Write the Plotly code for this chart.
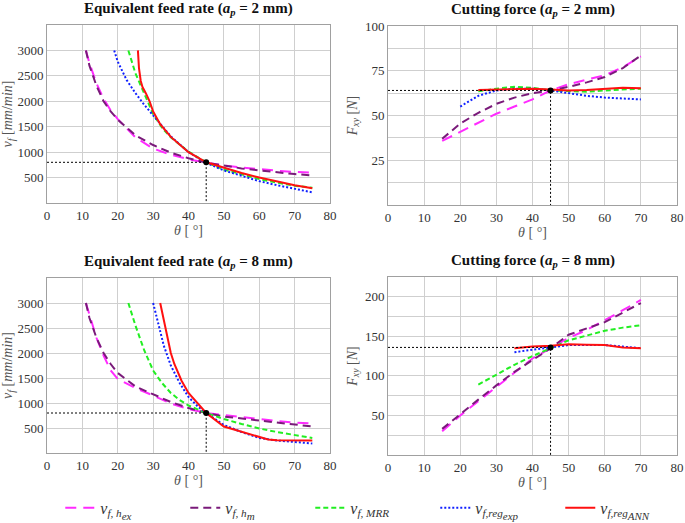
import plotly.graph_objects as go

# ---------------- data ----------------
# Equivalent feed rate, ap = 2 mm
feed2_h_theta = [11, 12, 14, 16, 18, 20, 25, 30, 35, 40, 45, 50, 55, 60, 65, 70, 75]
feed2_hex = [3000, 2750, 2350, 2050, 1820, 1650, 1290, 1070, 950, 860, 795, 740, 700, 665, 635, 610, 595]
feed2_hm = [3000, 2700, 2300, 2000, 1800, 1640, 1330, 1140, 990, 880, 795, 730, 680, 640, 600, 570, 540]
feed2_mrr_theta = [23, 25, 27.5, 30, 32.5, 35, 40, 45, 50, 55, 60, 65, 70, 75]
feed2_mrr = [3000, 2550, 2150, 1750, 1480, 1290, 1010, 800, 660, 560, 470, 400, 340, 300]
feed2_exp_theta = [19, 20, 22.5, 25, 27.5, 30, 32.5, 35, 40, 45, 50, 55, 60, 65, 70, 75]
feed2_exp = [3000, 2780, 2420, 2160, 1930, 1720, 1520, 1310, 1000, 790, 640, 530, 430, 350, 280, 210]
feed2_ann_theta = [25.7, 26, 26.5, 27, 28, 29, 30, 32, 35, 40, 45, 50, 55, 60, 65, 70, 75]
feed2_ann = [3000, 2650, 2400, 2280, 2150, 2000, 1800, 1550, 1300, 1000, 800, 690, 590, 500, 420, 350, 290]

# Cutting force, ap = 2 mm
force2_h_theta = [15, 20, 25, 30, 35, 40, 45, 50, 55, 60, 65, 70]
force2_hex = [35.8, 41, 46, 51, 55, 59, 64, 67.5, 70, 72.5, 77, 83]
force2_hm = [37, 45.5, 51.5, 56.5, 60, 62.5, 64, 66, 68.5, 71.5, 76.5, 83.5]
force2_mrr_theta = [25, 30, 35, 40, 45, 50, 55, 60, 65, 70]
force2_mrr = [63.5, 65, 66, 65.5, 64, 63.5, 63.3, 64, 64.5, 65]
force2_exp_theta = [20, 25, 30, 35, 40, 45, 50, 55, 60, 65, 70]
force2_exp = [55, 61, 64, 65, 65, 64, 62.5, 61, 60, 59.5, 59]
force2_ann_theta = [25, 30, 35, 40, 45, 50, 55, 60, 65, 70]
force2_ann = [64.2, 64.5, 65, 65, 64.5, 64, 64.3, 64.8, 65.5, 65.2]

# Equivalent feed rate, ap = 8 mm
feed8_h_theta = [11, 12, 14, 16, 18, 20, 25, 30, 35, 40, 45, 50, 55, 60, 65, 70, 75]
feed8_hex = [3000, 2750, 2300, 1950, 1650, 1480, 1300, 1150, 990, 880, 800, 760, 720, 670, 640, 610, 590]
feed8_hm = [3000, 2700, 2300, 2000, 1780, 1600, 1330, 1170, 1020, 900, 800, 730, 690, 650, 610, 570, 530]
feed8_mrr_theta = [23, 25, 27.5, 30, 32.5, 35, 37.5, 40, 45, 50, 55, 60, 65, 70, 75]
feed8_mrr = [3000, 2550, 2050, 1650, 1400, 1200, 1060, 950, 800, 680, 580, 490, 420, 360, 300]
feed8_exp_theta = [30, 31, 32, 33, 34, 35, 37.5, 40, 42.5, 45, 50, 55, 60, 65, 70, 75]
feed8_exp = [3000, 2700, 2400, 2150, 1950, 1750, 1400, 1120, 940, 800, 560, 420, 300, 250, 220, 190]
feed8_ann_theta = [32, 33, 34, 35, 36, 38, 40, 42.5, 45, 50, 55, 60, 62.5, 65, 70, 75]
feed8_ann = [3000, 2650, 2300, 2000, 1780, 1450, 1200, 1000, 800, 530, 430, 320, 270, 255, 250, 250]

# Cutting force, ap = 8 mm
force8_h_theta = [15, 20, 25, 30, 35, 40, 45, 50, 55, 60, 65, 70]
force8_hex = [30, 50, 68, 86, 103, 122, 135, 148, 158, 170, 183, 196]
force8_hm = [33, 52, 70, 88, 105, 120, 135, 152, 160, 168, 180, 192]
force8_mrr_theta = [25, 30, 35, 40, 45, 50, 55, 60, 65, 70]
force8_mrr = [89, 102, 114, 125, 135, 145, 151, 157, 161, 164]
force8_exp_theta = [35, 40, 45, 50, 55, 60, 65, 70]
force8_exp = [130, 133, 136, 139, 139, 139, 137, 135]
force8_ann_theta = [35, 40, 45, 50, 55, 60, 65, 70]
force8_ann = [135, 137, 138, 140, 139.5, 139, 136, 135]

# reference operating points (theta, value)
ref_theta = 45
ref_values = [800, 64, 800, 136]

titles = [
    "<b>Equivalent feed rate (<i>a<sub>p</sub></i> = 2 mm)</b>",
    "<b>Cutting force (<i>a<sub>p</sub></i> = 2 mm)</b>",
    "<b>Equivalent feed rate (<i>a<sub>p</sub></i> = 8 mm)</b>",
    "<b>Cutting force (<i>a<sub>p</sub></i> = 8 mm)</b>",
]
legend_names = [
    "<i>v<sub>f, h<sub><span style='font-size:11px'>ex</span></sub></sub></i>",
    "<i>v<sub>f, h<sub><span style='font-size:11px'>m</span></sub></sub></i>",
    "<i>v<sub>f, MRR</sub></i>",
    "<i>v<sub>f,reg<sub><span style='font-size:11px'>exp</span></sub></sub></i>",
    "<i>v<sub>f,reg<sub><span style='font-size:11px'>ANN</span></sub></sub></i>",
]

# ---------------- styles ----------------
styles = [
    dict(color="#ff2bff", width=2, dash="11px,7px"),
    dict(color="#7a1a7a", width=2, dash="8px,5px"),
    dict(color="#22ee22", width=2, dash="5px,3px"),
    dict(color="#1020ff", width=2, dash="2px,2px"),
    dict(color="#ff1010", width=2),
]

panels = [
    [(feed2_h_theta, feed2_hex), (feed2_h_theta, feed2_hm), (feed2_mrr_theta, feed2_mrr),
     (feed2_exp_theta, feed2_exp), (feed2_ann_theta, feed2_ann)],
    [(force2_h_theta, force2_hex), (force2_h_theta, force2_hm), (force2_mrr_theta, force2_mrr),
     (force2_exp_theta, force2_exp), (force2_ann_theta, force2_ann)],
    [(feed8_h_theta, feed8_hex), (feed8_h_theta, feed8_hm), (feed8_mrr_theta, feed8_mrr),
     (feed8_exp_theta, feed8_exp), (feed8_ann_theta, feed8_ann)],
    [(force8_h_theta, force8_hex), (force8_h_theta, force8_hm), (force8_mrr_theta, force8_mrr),
     (force8_exp_theta, force8_exp), (force8_ann_theta, force8_ann)],
]

W, H = 685, 523
# pixel frames (left, right, top, bottom)
frames = [(47, 330, 25, 203), (388, 677, 26, 205), (47, 330, 278, 453), (388, 677, 277, 455)]

fig = go.Figure()
for p, series in enumerate(panels):
    ax = "" if p == 0 else str(p + 1)
    for s, (tx, ty) in enumerate(series):
        fig.add_trace(go.Scatter(
            x=tx, y=ty, mode="lines", line=styles[s], name=legend_names[s],
            showlegend=(p == 0), xaxis="x" + ax, yaxis="y" + ax))
    rv = ref_values[p]
    fig.add_trace(go.Scatter(
        x=[0, ref_theta, ref_theta], y=[rv, rv, 0], mode="lines",
        line=dict(color="black", width=1, dash="2px,2px"), showlegend=False,
        xaxis="x" + ax, yaxis="y" + ax))
    fig.add_trace(go.Scatter(
        x=[ref_theta], y=[rv], mode="markers", marker=dict(color="black", size=6),
        showlegend=False, xaxis="x" + ax, yaxis="y" + ax))

font_family = "Liberation Serif"
grid = "#cfcfcf"
frame_col = "#a0a0a0"
tickfont = dict(family=font_family, size=13, color="#333")
titlefont = dict(family=font_family, size=14, color="#555")

layout = dict(
    width=W, height=H, margin=dict(l=0, r=0, t=0, b=0, autoexpand=False),
    paper_bgcolor="white", plot_bgcolor="white",
    font=dict(family=font_family),
    legend=dict(orientation="h", x=0.088, y=0.029, xanchor="left", yanchor="middle",
                entrywidth=80, entrywidthmode="pixels",
                font=dict(family=font_family, size=16, color="#333"),
                bgcolor="rgba(0,0,0,0)"),
    annotations=[],
)

yranges = [[0, 3500], [0, 100], [0, 3500], [0, 225]]
ylabels = ["<i>v<sub>f</sub></i> [<i>mm</i>/<i>min</i>]", "<i>F<sub>xy</sub></i> [<i>N</i>]",
           "<i>v<sub>f</sub></i> [<i>mm</i>/<i>min</i>]", "<i>F<sub>xy</sub></i> [<i>N</i>]"]
ytickvals = [[500, 1000, 1500, 2000, 2500, 3000], [25, 50, 75, 100],
             [500, 1000, 1500, 2000, 2500, 3000], [50, 100, 150, 200]]
yminor = [None, 12.5, None, 25]

for p in range(4):
    l, r, t, b = frames[p]
    ax = "" if p == 0 else str(p + 1)
    xd = [l / W, r / W]
    yd = [1 - b / H, 1 - t / H]
    layout["xaxis" + ax] = dict(
        domain=xd, range=[0, 80], tickvals=[0, 10, 20, 30, 40, 50, 60, 70, 80],
        showgrid=True, gridcolor=grid, gridwidth=1, zeroline=False,
        showline=True, linecolor=frame_col, linewidth=1, mirror=True, automargin=False,
        ticks="", tickfont=tickfont, anchor="y" + ax,
        title=dict(text="<i>θ</i> [ °]", font=titlefont, standoff=2))
    ydict = dict(
        domain=yd, range=yranges[p], tickvals=ytickvals[p],
        showgrid=True, gridcolor=grid, gridwidth=1, zeroline=False,
        showline=True, linecolor=frame_col, linewidth=1, mirror=True, automargin=False,
        ticks="", tickfont=tickfont, anchor="x" + ax,
        title=dict(text=ylabels[p], font=titlefont, standoff=4))
    if yminor[p]:
        ydict["minor"] = dict(tickmode="linear", tick0=0, dtick=yminor[p], showgrid=True,
                              gridcolor=grid, gridwidth=1, ticks="")
    layout["yaxis" + ax] = ydict
    layout["annotations"].append(dict(
        text=titles[p], x=(xd[0] + xd[1]) / 2, y=yd[1] + 5 / H, xref="paper", yref="paper",
        xanchor="center", yanchor="bottom", showarrow=False,
        font=dict(family=font_family, size=15, color="#111")))

fig.update_layout(**layout)
fig.write_html("out.html", config={"displayModeBar": False},
               post_script="document.body.style.margin='0px';")
